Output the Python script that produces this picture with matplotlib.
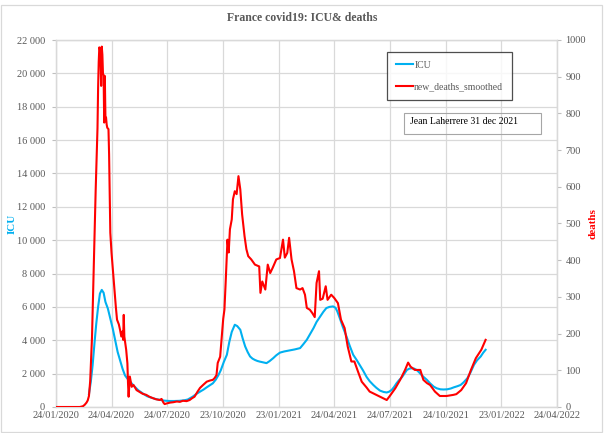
import matplotlib
matplotlib.use("Agg")
import matplotlib.pyplot as plt
from matplotlib.patches import Rectangle
from matplotlib.lines import Line2D
import pandas as pd

plt.rcParams['font.family'] = ['Liberation Serif', 'DejaVu Serif']

# ---------------- data ----------------
icu_dates = ["2020-03-18","2020-03-21","2020-03-24","2020-03-27","2020-03-30","2020-04-02","2020-04-05","2020-04-08",
"2020-04-11","2020-04-14","2020-04-18","2020-04-22","2020-04-26","2020-04-30","2020-05-04","2020-05-08","2020-05-12",
"2020-05-16","2020-05-20","2020-05-25","2020-05-31","2020-06-07","2020-06-14","2020-06-21","2020-06-28","2020-07-05",
"2020-07-12","2020-07-20","2020-07-28","2020-08-05","2020-08-13","2020-08-21","2020-08-27","2020-09-04","2020-09-10",
"2020-09-16","2020-09-22","2020-09-27","2020-10-02","2020-10-07","2020-10-12","2020-10-16","2020-10-20","2020-10-25",
"2020-10-30","2020-11-03","2020-11-07","2020-11-12","2020-11-16","2020-11-21","2020-11-25","2020-11-29","2020-12-03",
"2020-12-07","2020-12-11","2020-12-15","2020-12-19","2020-12-23","2020-12-28","2021-01-03","2021-01-08","2021-01-14",
"2021-01-19","2021-01-25","2021-02-01","2021-02-10","2021-02-18","2021-02-27","2021-03-04","2021-03-10","2021-03-15",
"2021-03-21","2021-03-26","2021-04-01","2021-04-06","2021-04-11","2021-04-16","2021-04-22","2021-04-26","2021-04-29",
"2021-05-03","2021-05-08","2021-05-14","2021-05-19","2021-05-25","2021-05-31","2021-06-05","2021-06-10","2021-06-16",
"2021-06-21","2021-06-27","2021-07-02","2021-07-08","2021-07-14","2021-07-19","2021-07-23","2021-07-27","2021-07-31",
"2021-08-04","2021-08-08","2021-08-13","2021-08-17","2021-08-21","2021-08-25","2021-08-29","2021-09-02","2021-09-06",
"2021-09-10","2021-09-14","2021-09-18","2021-09-23","2021-09-28","2021-10-04","2021-10-09","2021-10-15","2021-10-20",
"2021-10-26","2021-11-01","2021-11-06","2021-11-12","2021-11-17","2021-11-22","2021-11-28","2021-12-03","2021-12-09",
"2021-12-14","2021-12-20","2021-12-24","2021-12-28"]
icu_values = [770,1500,2500,3800,5000,6000,6800,7020,
6850,6300,5900,5300,4700,4000,3300,2800,2300,
1900,1700,1500,1250,1000,820,650,560,480,
430,380,360,360,370,400,450,620,780,
920,1050,1180,1300,1420,1650,1900,2200,2700,
3130,3900,4500,4930,4850,4630,4100,3630,3300,
3030,2900,2820,2760,2720,2680,2630,2750,2930,
3100,3260,3330,3390,3450,3530,3750,4030,4350,
4730,5100,5430,5700,5930,6000,6030,5950,5730,
5330,4800,4230,3700,3130,2800,2500,2200,1800,
1550,1320,1150,980,900,870,920,1020,1200,
1420,1600,1790,2000,2220,2300,2320,2300,2220,
2080,1920,1780,1620,1420,1220,1120,1060,1050,
1060,1110,1180,1250,1320,1480,1720,2050,2530,
2800,3030,3250,3430]

death_dates = ["2020-01-24","2020-02-10","2020-02-25","2020-03-03","2020-03-08","2020-03-11","2020-03-14","2020-03-16",
"2020-03-18","2020-03-20","2020-03-23","2020-03-26","2020-03-29","2020-04-01","2020-04-02","2020-04-03","2020-04-04",
"2020-04-05","2020-04-06","2020-04-07","2020-04-08","2020-04-09","2020-04-10","2020-04-11","2020-04-12","2020-04-13",
"2020-04-14","2020-04-15","2020-04-16","2020-04-17","2020-04-19","2020-04-20","2020-04-22","2020-04-24","2020-04-27",
"2020-05-01","2020-05-03","2020-05-06","2020-05-08","2020-05-10","2020-05-12","2020-05-13","2020-05-14","2020-05-15",
"2020-05-18","2020-05-20","2020-05-21","2020-05-22","2020-05-24","2020-05-27","2020-05-30","2020-06-04","2020-06-09",
"2020-06-14","2020-06-20","2020-06-25","2020-07-01","2020-07-06","2020-07-12","2020-07-15","2020-07-18","2020-07-20",
"2020-07-24","2020-07-29","2020-08-03","2020-08-09","2020-08-14","2020-08-19","2020-08-25","2020-08-30","2020-09-03",
"2020-09-07","2020-09-12","2020-09-16","2020-09-21","2020-09-27","2020-10-02","2020-10-07","2020-10-10","2020-10-13",
"2020-10-15","2020-10-19","2020-10-21","2020-10-24","2020-10-26","2020-10-28","2020-10-31","2020-11-02","2020-11-04",
"2020-11-07","2020-11-09","2020-11-12","2020-11-15","2020-11-18","2020-11-21","2020-11-24","2020-11-28","2020-12-01",
"2020-12-04","2020-12-09","2020-12-15","2020-12-22","2020-12-24","2020-12-27","2021-01-01","2021-01-05","2021-01-09",
"2021-01-13","2021-01-19","2021-01-25","2021-01-30","2021-02-02","2021-02-06","2021-02-09","2021-02-13","2021-02-17",
"2021-02-21","2021-02-27","2021-03-03","2021-03-07","2021-03-10","2021-03-15","2021-03-19","2021-03-23","2021-03-26",
"2021-03-30","2021-04-01","2021-04-05","2021-04-10","2021-04-13","2021-04-19","2021-04-24","2021-04-30","2021-05-05",
"2021-05-11","2021-05-16","2021-05-22","2021-05-27","2021-06-02","2021-06-08","2021-06-16","2021-06-21","2021-06-27",
"2021-07-08","2021-07-19","2021-07-24","2021-08-02","2021-08-10","2021-08-18","2021-08-23","2021-08-27","2021-09-03",
"2021-09-12","2021-09-17","2021-09-23","2021-09-28","2021-10-06","2021-10-14","2021-10-25","2021-11-05","2021-11-10",
"2021-11-18","2021-11-26","2021-12-04","2021-12-12","2021-12-21","2021-12-28"]
death_values = [0,0,0,0,2,6,12,18,
30,70,190,390,590,760,870,940,980,
975,950,875,982,960,907,905,775,902,
790,789,770,761,757,689,475,420,356,
274,238,225,210,192,206,183,251,192,
156,119,65,28,83,55,60,46,41,
36,33,28,24,21,19,22,12,8,
10,12,13,15,14,17,16,19,24,
28,42,52,60,69,72,74,79,87,
120,137,178,240,265,338,456,421,484,
511,566,588,580,629,593,525,465,430,
411,402,388,383,311,342,320,388,365,
379,402,406,456,407,420,461,402,370,
324,320,324,306,270,265,256,245,338,
370,292,295,329,292,306,297,283,238,
215,165,124,124,96,69,53,42,37,
28,19,30,51,74,101,121,110,101,
101,74,65,60,42,30,30,33,35,
46,65,101,133,156,183]

x_tick_dates = ["2020-01-24","2020-04-24","2020-07-24","2020-10-23","2021-01-23","2021-04-24",
                "2021-07-24","2021-10-24","2022-01-23","2022-04-24"]
left_ticks = list(range(0, 22001, 2000))
right_ticks = list(range(0, 1001, 100))

title = "France covid19: ICU& deaths"
icu_label = "ICU"
death_label = "new_deaths_smoothed"
right_axis_label = "deaths"
note = "Jean Laherrere 31 dec 2021"

# ---------------- figure ----------------
W, H = 604, 433
fig = plt.figure(figsize=(W/100, H/100), dpi=100)
fig.patch.set_facecolor('white')

def fx(x): return x / W
def fy(y): return 1 - y / H

L, R, T, B = 56, 557, 40, 407
ax = fig.add_axes([fx(L), fy(B), (R-L)/W, (B-T)/H])
ax2 = ax.twinx()

grid_c = '#D9D9D9'
txt_c = '#595959'
blue = '#00B0F0'
red = '#FF0000'

icu_x = pd.to_datetime(icu_dates)
dth_x = pd.to_datetime(death_dates)
ax.plot(icu_x, icu_values, color=blue, lw=1.5, zorder=3)
ax2.plot(dth_x, death_values, color=red, lw=1.5, zorder=3)

xt = pd.to_datetime(x_tick_dates)
ax.set_xlim(xt[0], xt[-1])
ax.set_xticks(xt)
ax.set_xticklabels([d.strftime('%d/%m/%Y') for d in xt])
ax.set_ylim(0, 22000)
ax.set_yticks(left_ticks)
ax.set_yticklabels([f"{v:,}".replace(',', ' ') for v in left_ticks])
ax2.set_ylim(0, 1000)
ax2.set_yticks(right_ticks)
ax2.set_yticklabels([str(v) for v in right_ticks])

ax.grid(True, color=grid_c, lw=0.9, zorder=0)
ax.set_axisbelow(True)
for a in (ax, ax2):
    for s in a.spines.values():
        s.set_color(grid_c)
        s.set_linewidth(0.9)
    a.tick_params(colors=txt_c, labelsize=7.5, length=3, width=0.8, color='#BFBFBF')
ax.tick_params(axis='x', length=0, pad=3)
ax.tick_params(axis='y', pad=5)
ax2.tick_params(axis='y', pad=3)

ax.set_ylabel(icu_label, color=blue, fontsize=8, fontweight='bold')
ax.yaxis.set_label_coords((17 - L) / (R - L), 0.5)
ax2.set_ylabel(right_axis_label, color=red, fontsize=8, fontweight='bold')
ax2.yaxis.set_label_coords((589 - L) / (R - L), 0.5)

fig.text(fx(302), fy(18), title, ha='center', va='center', fontsize=8.5,
         fontweight='bold', color=txt_c)

# legend
handles = [Line2D([], [], color=blue, lw=1.5), Line2D([], [], color=red, lw=1.5)]
leg = ax2.legend(handles, [icu_label, death_label], loc='upper left',
                 bbox_to_anchor=(fx(387), fy(52)), bbox_transform=fig.transFigure,
                 fontsize=7, frameon=True, fancybox=False, handlelength=1.8,
                 handletextpad=0.1, labelspacing=1.3, borderpad=0.9, borderaxespad=0)
leg.get_frame().set_edgecolor('#222222')
leg.get_frame().set_linewidth(0.9)
for t in leg.get_texts():
    t.set_color(txt_c)

# note box
fig.add_artist(Rectangle((fx(404), fy(134)), 137/W, 21/H, transform=fig.transFigure,
                         fill=False, edgecolor='#A6A6A6', lw=0.8))
fig.text(fx(410), fy(122), note, ha='left', va='center', fontsize=7, color='black')

# chart border
fig.add_artist(Rectangle((fx(1), fy(432)), 601/W, 427/H, transform=fig.transFigure,
                         fill=False, edgecolor=grid_c, lw=0.9))

fig.savefig('out.png', dpi=100)
